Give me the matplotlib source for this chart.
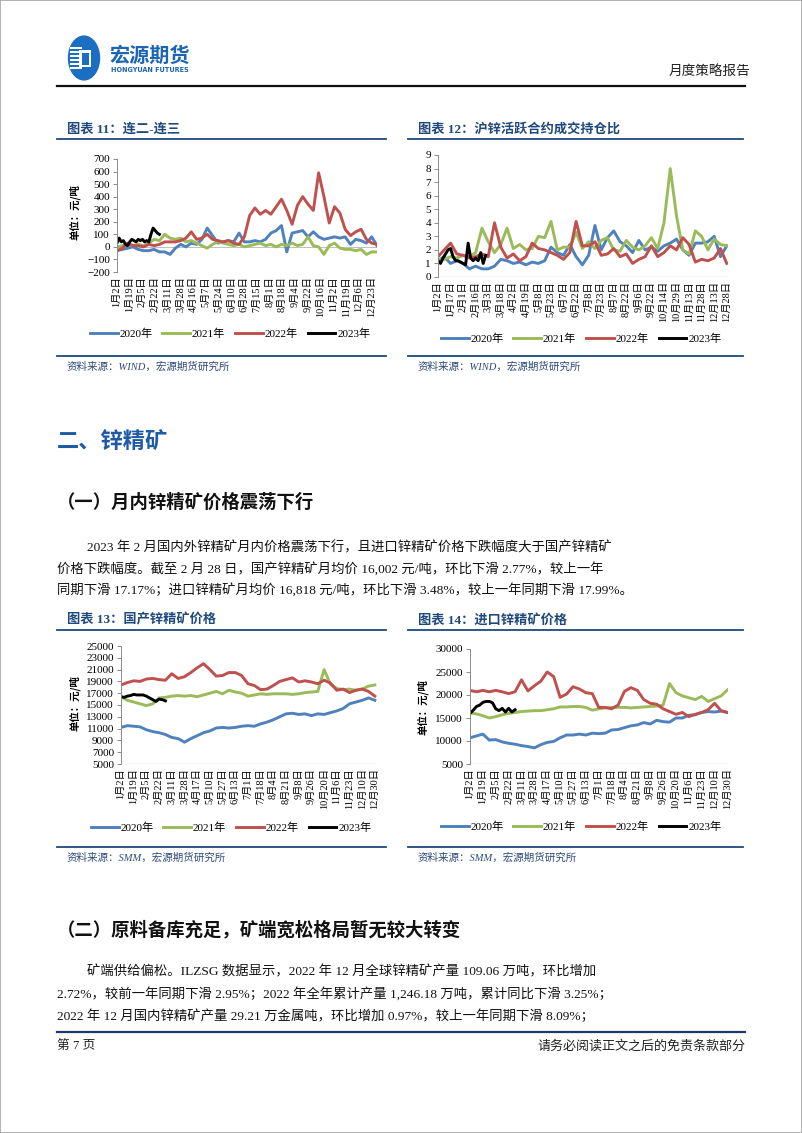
import matplotlib
matplotlib.use('Agg')
import matplotlib.pyplot as plt
import numpy as np
from matplotlib.lines import Line2D
from matplotlib.patches import Circle, Rectangle

plt.rcParams['font.family'] = ['Noto Sans CJK SC', 'DejaVu Sans']

W, H = 802, 1133
SERIF = ['Liberation Serif', 'Noto Sans CJK SC']

years = ['2020年', '2021年', '2022年', '2023年']
colors = ['#4F81BD', '#9BBB59', '#C0504D', '#000000']

# 图表11 连二-连三 (元/吨), one value every 5 trading days (2023: every 2)
c11_2020 = [-30, -20, -10, 0, -20, -30, -30, -20, -40, -40, -60, -10, 20, 0, 30, 20, 60, 150, 90, 30,
            40, 50, 40, 110, 40, 40, 50, 40, 60, 110, 130, 170, -40, 110, 120, 130, 80, 120, 80, 60,
            70, 80, 70, 80, 20, 60, 50, 30, 80, 10]
c11_2021 = [0, 10, 20, 10, 20, 10, 30, 60, 50, 100, 70, 60, 70, 40, 50, 30, 10, -10, 20, 40,
            30, 20, 10, 20, 0, 10, 20, 30, 10, 20, 0, 20, 10, 30, 10, 20, 80, 10, 0, -60,
            10, 30, -10, -20, -20, -30, -20, -60, -40, -40]
c11_2022 = [-30, -10, 30, 10, 10, 0, 20, 10, 20, 40, 40, 40, 50, 70, 120, 60, 70, 100, 60, 50,
            40, 50, 30, 20, 80, 250, 310, 260, 290, 260, 320, 380, 290, 180, 330, 400, 340, 290, 590, 400,
            190, 320, 270, 140, 90, 120, 140, 60, 30, 20]
c11_2023 = [30, 70, 40, 50, 20, 10, 40, 60, 50, 40, 60, 50, 60, 40, 50, 40, 100, 150, 130, 110, 100]
t11 = ['1月2日', '1月19日', '2月5日', '2月22日', '3月11日', '3月28日', '4月16日', '5月7日', '5月24日',
       '6月10日', '6月28日', '7月15日', '8月1日', '8月18日', '9月4日', '9月22日', '10月16日', '11月2日',
       '11月19日', '12月6日', '12月23日']

# 图表12 沪锌活跃合约成交持仓比, every 5 trading days (2023: every 2)
c12_2020 = [1.2, 1.5, 1.0, 1.2, 1.0, 0.6, 0.8, 0.6, 0.6, 0.8, 1.3, 1.2, 1.0, 1.1, 0.9, 1.1, 1.0, 1.2,
            2.2, 1.8, 1.6, 2.4, 1.5, 0.9, 1.6, 3.8, 2.0, 2.9, 3.4, 2.6, 2.3, 1.8, 2.7, 2.0, 2.2, 1.9,
            2.3, 2.5, 2.8, 2.0, 1.6, 2.5, 2.5, 2.6, 3.0, 1.5, 2.3]
c12_2021 = [1.3, 1.3, 1.5, 1.4, 1.6, 1.5, 1.8, 3.6, 2.6, 1.8, 2.4, 3.6, 2.1, 2.4, 2.0, 2.1, 3.0, 2.9,
            4.1, 2.0, 2.2, 2.2, 3.3, 2.1, 2.6, 2.1, 2.7, 2.9, 2.0, 1.9, 2.7, 2.2, 2.0, 2.3, 2.9, 2.1,
            4.0, 8.0, 4.5, 2.0, 1.7, 3.4, 3.0, 2.0, 2.8, 2.4, 2.3]
c12_2022 = [1.5, 2.0, 2.5, 1.7, 1.6, 1.4, 1.5, 1.7, 1.5, 4.0, 2.2, 1.4, 1.7, 1.2, 1.5, 2.5, 2.1, 2.0,
            1.8, 1.6, 1.3, 1.8, 4.1, 2.3, 2.3, 2.6, 1.6, 1.7, 2.1, 1.5, 1.7, 1.0, 1.3, 1.5, 2.3, 1.5,
            1.8, 2.3, 2.0, 2.9, 2.4, 1.1, 1.3, 1.2, 1.4, 2.1, 1.0]
c12_2023 = [1.2, 1.0, 1.4, 1.7, 2.0, 2.1, 1.5, 1.2, 1.2, 1.1, 1.0, 0.9, 2.5, 1.4, 1.2, 1.4, 1.2, 1.8, 1.0, 1.6]
t12 = ['1月2日', '1月17日', '2月1日', '2月16日', '3月3日', '3月18日', '4月2日', '4月19日', '5月8日',
       '5月23日', '6月7日', '6月22日', '7月8日', '7月23日', '8月7日', '8月22日', '9月6日', '9月22日',
       '10月14日', '10月29日', '11月13日', '11月28日', '12月13日', '12月28日']

# 图表13 国产锌精矿价格 (元/吨), every 6 trading days (2023: every 3)
c13_2020 = [11200, 11500, 11400, 11300, 10800, 10500, 10300, 10000, 9500, 9300, 8700, 9300, 9800, 10300,
            10600, 11100, 11200, 11100, 11200, 11400, 11500, 11400, 11800, 12100, 12500, 13000, 13500,
            13600, 13400, 13500, 13200, 13500, 13400, 13700, 14000, 14400, 15200, 15500, 15800, 16200, 15800]
c13_2021 = [16400, 15800, 15500, 15200, 14900, 15200, 16200, 16300, 16500, 16600, 16500, 16600, 16400, 16700,
            17000, 17300, 16900, 17500, 17200, 17000, 16500, 16700, 16900, 16800, 16900, 16900, 16900,
            16800, 16900, 17100, 17200, 17300, 21000, 18500, 17800, 17600, 17700, 17500, 17700, 18200, 18400]
c13_2022 = [18400, 18800, 19100, 19000, 19400, 19500, 19300, 19200, 20300, 19500, 19800, 20500, 21300, 22000,
            21000, 19900, 20000, 20500, 20500, 20000, 18600, 18300, 17600, 17700, 18300, 19000, 19300,
            19600, 18900, 19100, 18900, 18600, 19200, 18700, 17500, 17700, 17100, 17500, 17700, 17300, 16500]
c13_2023 = [16400, 16300, 16500, 16600, 16800, 16700, 16700, 16700, 16500, 16200, 15900, 15600, 16000, 15900, 15700]
t13 = ['1月2日', '1月19日', '2月5日', '2月22日', '3月11日', '3月28日', '4月17日', '5月10日', '5月27日',
       '6月13日', '7月1日', '7月18日', '8月4日', '8月21日', '9月8日', '9月26日', '10月20日', '11月6日',
       '11月23日', '12月10日', '12月30日']

# 图表14 进口锌精矿价格 (元/吨), every 6 trading days (2023: every 3)
c14_2020 = [10700, 11100, 11500, 10200, 10300, 9800, 9500, 9300, 9000, 8800, 8500, 9200, 9700, 9900,
            10700, 11300, 11300, 11500, 11300, 11700, 11600, 11700, 12400, 12500, 12900, 13300, 13500,
            14000, 13700, 14500, 14200, 14100, 15000, 15000, 15600, 15700, 16200, 16400, 16300, 16500, 16200]
c14_2021 = [16100, 15900, 15500, 15000, 15300, 15700, 16000, 16200, 16400, 16500, 16600, 16600, 16800, 17000,
            17400, 17400, 17500, 17500, 17300, 16700, 17000, 17200, 17300, 17300, 17300, 17200, 17300,
            17400, 17500, 17600, 17800, 22500, 20500, 19800, 19400, 19000, 19700, 18600, 19200, 19800, 21100]
c14_2022 = [21000, 20700, 21000, 20700, 21000, 20700, 20300, 20700, 23300, 20900, 22000, 23000, 25000, 24000,
            19500, 20200, 21800, 21300, 20500, 20300, 17300, 17300, 17000, 17800, 20800, 21600, 21000,
            19000, 18200, 18000, 17000, 16400, 15800, 16200, 15300, 15800, 16200, 16800, 18200, 16600, 16200]
c14_2023 = [16000, 16700, 17500, 17800, 18400, 18600, 18600, 18300, 17000, 16600, 17100, 16300, 17100, 16300, 16800]
t14 = t13

fig = plt.figure(figsize=(W / 100, H / 100), dpi=100)
fig.patch.set_facecolor('white')


def fx(x):
    return x / W


def fy(y):
    return 1 - y / H


def ftext(x, y, s, **kw):
    kw.setdefault('va', 'center')
    return fig.text(fx(x), fy(y), s, **kw)


def hline(x0, x1, y, color, lw):
    fig.add_artist(Line2D([fx(x0), fx(x1)], [fy(y), fy(y)], color=color, lw=lw))


def chart(box, series, steps, labels, tick_step, xmax, ylim, ystep, zero=False):
    l, t, r, b = box
    ax = fig.add_axes([fx(l), fy(b), (r - l) / W, (b - t) / H])
    for vals, st, c, lab in zip(series, steps, colors, years):
        ax.plot(np.arange(len(vals)) * st, vals, color=c, lw=2.1, label=lab,
                solid_joinstyle='round')
    ax.set_xlim(0, xmax)
    ax.set_ylim(*ylim)
    ax.set_yticks(np.arange(ylim[0], ylim[1] + ystep / 2, ystep))
    ax.set_xticks(np.arange(len(labels)) * tick_step)
    ax.set_xticklabels(labels, rotation=90, family=SERIF, fontsize=7.4, va='top')
    for lb in ax.get_yticklabels():
        lb.set_family(SERIF)
        lb.set_fontsize(8)
    for s in ['top', 'right', 'bottom']:
        ax.spines[s].set_visible(False)
    ax.spines['left'].set_color('#8C8C8C')
    ax.spines['left'].set_linewidth(0.7)
    ax.tick_params(axis='y', length=3, width=0.7, color='#8C8C8C', pad=2)
    ax.tick_params(axis='x', length=0, pad=3)
    if zero:
        ax.axhline(0, color='#BFBFBF', lw=0.7, zorder=0)
    else:
        ax.axhline(ylim[0], color='#8C8C8C', lw=0.8, zorder=0)
    return ax


def legend(ax, cx, cy):
    ax.legend(loc='center', bbox_to_anchor=(fx(cx), fy(cy)), bbox_transform=fig.transFigure,
              ncol=4, frameon=False, prop={'family': SERIF, 'size': 8},
              handlelength=2.5, handletextpad=0.15, columnspacing=0.9)


def frame(x0, x1, title_y, line_y, bottom_y, title, source):
    ftext(x0 + 10, title_y, title, family=SERIF, fontsize=9.5, fontweight='bold', color='#1F497D')
    hline(x0, x1, line_y, '#1F497D', 1.3)
    hline(x0, x1, bottom_y, '#1F497D', 1.3)
    ftext(x0 + 10, bottom_y + 11, source, family=SERIF, fontsize=7.6, style='italic', color='#2E4A78')


# page border
fig.add_artist(Rectangle((0, 0), 1, 1, transform=fig.transFigure, fill=False, edgecolor='#A6A6A6', lw=1.2))

# header / logo
fig.add_artist(Circle((fx(84), fy(58)), 15.5 / W, transform=fig.transFigure, color='#1B6EC2'))
for yy in [48, 52, 56, 60, 64, 68]:
    fig.add_artist(Rectangle((fx(70), fy(yy + 1.2)), 12 / W, 2.2 / H, transform=fig.transFigure,
                             color='white', lw=0))
fig.add_artist(Rectangle((fx(79), fy(67)), 12 / W, 17 / H, transform=fig.transFigure, color='white', lw=0))
fig.add_artist(Rectangle((fx(81.5), fy(64.5)), 7 / W, 12 / H, transform=fig.transFigure, color='#1B6EC2', lw=0))
ftext(109, 55, '宏源期货', fontsize=14.5, fontweight='bold', color='#1C64B4')
ftext(111, 70, 'HONGYUAN FUTURES', family='DejaVu Sans', fontsize=4.7, fontweight='bold', color='#1C64B4')
ftext(750, 71, '月度策略报告', fontsize=9.8, color='#222222', ha='right')
hline(57, 745, 86, '#111111', 1.6)

# chart 11
frame(57, 386, 129, 139, 356, '图表 11：连二-连三', '资料来源：WIND，宏源期货研究所')
ax11 = chart((117, 159, 377, 272), [c11_2020, c11_2021, c11_2022, c11_2023], [5, 5, 5, 2],
             t11, 12, 245, (-200, 700), 100, zero=True)
legend(ax11, 230, 334)
ftext(75, 212, '单位：元/吨', fontsize=7.5, fontweight='bold', rotation=90, ha='center')

# chart 12
frame(408, 743, 129, 139, 356, '图表 12：沪锌活跃合约成交持仓比', '资料来源：WIND，宏源期货研究所')
ax12 = chart((438, 155, 728, 277), [c12_2020, c12_2021, c12_2022, c12_2023], [5, 5, 5, 2],
             t12, 10, 231, (0, 9), 1)
legend(ax12, 581, 339)

# section text
ftext(57, 441, '二、锌精矿', fontsize=16, fontweight='bold', color='#1F5AA6')
ftext(57, 502, '（一）月内锌精矿价格震荡下行', fontsize=13.2, fontweight='bold', color='#111111')
para1 = ['2023 年 2 月国内外锌精矿月内价格震荡下行，且进口锌精矿价格下跌幅度大于国产锌精矿',
         '价格下跌幅度。截至 2 月 28 日，国产锌精矿月均价 16,002 元/吨，环比下滑 2.77%，较上一年',
         '同期下滑 17.17%；进口锌精矿月均价 16,818 元/吨，环比下滑 3.48%，较上一年同期下滑 17.99%。']
for i, s in enumerate(para1):
    ftext(87 if i == 0 else 57, 548 + 21.5 * i, s, family=SERIF, fontsize=9.6, color='#111111')

# chart 13
frame(57, 386, 620, 630, 847, '图表 13：国产锌精矿价格', '资料来源：SMM，宏源期货研究所')
ax13 = chart((121, 646, 377, 764), [c13_2020, c13_2021, c13_2022, c13_2023], [6, 6, 6, 3],
             t13, 12, 242, (5000, 25000), 2000)
legend(ax13, 231, 828)
ftext(75, 703, '单位：元/吨', fontsize=7.5, fontweight='bold', rotation=90, ha='center')

# chart 14
frame(408, 743, 620, 630, 847, '图表 14：进口锌精矿价格', '资料来源：SMM，宏源期货研究所')
ax14 = chart((470, 649, 728, 764), [c14_2020, c14_2021, c14_2022, c14_2023], [6, 6, 6, 3],
             t14, 12, 240.5, (5000, 30000), 5000)
legend(ax14, 581, 827)
ftext(423, 707, '单位：元/吨', fontsize=7.5, fontweight='bold', rotation=90, ha='center')

ftext(57, 930, '（二）原料备库充足，矿端宽松格局暂无较大转变', fontsize=13.2, fontweight='bold', color='#111111')
para2 = ['矿端供给偏松。ILZSG 数据显示，2022 年 12 月全球锌精矿产量 109.06 万吨，环比增加',
         '2.72%，较前一年同期下滑 2.95%；2022 年全年累计产量 1,246.18 万吨，累计同比下滑 3.25%；',
         '2022 年 12 月国内锌精矿产量 29.21 万金属吨，环比增加 0.97%，较上一年同期下滑 8.09%；']
for i, s in enumerate(para2):
    ftext(87 if i == 0 else 57, 972 + 22 * i, s, family=SERIF, fontsize=9.6, color='#111111')

# footer
hline(57, 745, 1032, '#1F3864', 1.6)
ftext(57, 1046, '第 7 页', family=SERIF, fontsize=9.2, color='#222222')
ftext(745, 1046, '请务必阅读正文之后的免责条款部分', fontsize=9.4, color='#222222', ha='right')

fig.savefig('out.png', dpi=100, facecolor='white')
